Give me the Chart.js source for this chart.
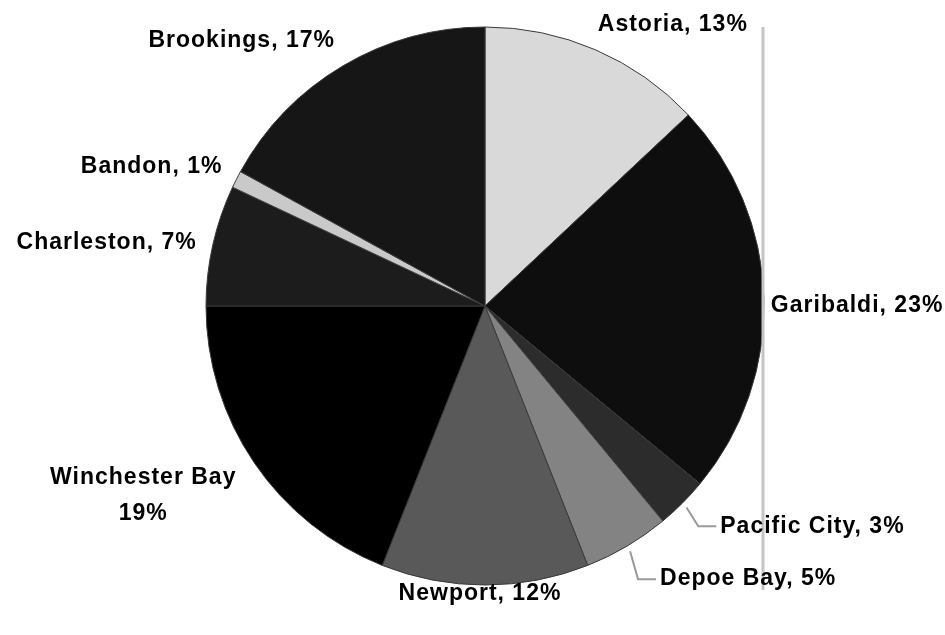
<!DOCTYPE html>
<html>
<head>
<meta charset="utf-8">
<script src="https://cdn.jsdelivr.net/npm/chart.js@4/dist/chart.umd.min.js"></script>
<style>
html,body{margin:0;padding:0;background:#fff;}
#wrap{width:945px;height:635px;position:relative;}
</style>
</head>
<body>
<div id="wrap"><canvas id="c" width="945" height="635"></canvas></div>
<script>
// ---- data ----
const categories = ["Astoria", "Garibaldi", "Pacific City", "Depoe Bay", "Newport", "Winchester Bay", "Charleston", "Bandon", "Brookings"];
const shares = [13, 23, 3, 5, 12, 19, 7, 1, 17];

// ---- styles ----
const sliceColors = ["#d9d9d9", "#0e0e0e", "#2c2c2c", "#838383", "#595959", "#000000", "#1c1c1c", "#c9c9c9", "#161616"];
// label placement relative to each slice's outer edge at its mid angle
const labelStyle = [
  {dx: 2,    dy: -25, align: "left"},
  {dx: 7,    dy: 8,   align: "left"},
  {dx: 38,   dy: 23,  align: "left", leader: true},
  {dx: 33,   dy: 33,  align: "left", leader: true},
  {dx: -5,   dy: 9,   align: "center"},
  {dx: -111, dy: 15,  align: "center", split: true},
  {dx: -16,  dy: -2,  align: "right"},
  {dx: -14,  dy: -13, align: "right"},
  {dx: -8,   dy: -25, align: "right"}
];

const FONT = 'bold 23px "Liberation Sans", Arial, sans-serif';

const labelPlugin = {
  id: "outerLabels",
  afterDatasetsDraw(chart) {
    const ctx = chart.ctx;
    const meta = chart.getDatasetMeta(0);
    // image edge line at the right of the pie
    const a0 = meta.data[0];
    const cx = a0.x, cy = a0.y, R = a0.outerRadius;
    ctx.save();
    ctx.strokeStyle = "#c4c4c4";
    ctx.lineWidth = 3;
    ctx.beginPath();
    ctx.moveTo(cx + R - 1, cy - R);
    ctx.lineTo(cx + R - 1, cy + R + 5);
    ctx.stroke();
    ctx.restore();

    ctx.save();
    ctx.font = FONT;
    ctx.fillStyle = "#000";
    ctx.textBaseline = "middle";
    try { ctx.letterSpacing = "1px"; } catch (e) {}
    meta.data.forEach((arc, i) => {
      const p = arc.getProps(["x", "y", "startAngle", "endAngle", "outerRadius"], true);
      const mid = (p.startAngle + p.endAngle) / 2;
      const ax = p.x + Math.cos(mid) * p.outerRadius;
      const ay = p.y + Math.sin(mid) * p.outerRadius;
      const st = labelStyle[i];
      const tx = ax + st.dx, ty = ay + st.dy;
      const text = categories[i] + ", " + shares[i] + "%";
      ctx.textAlign = st.align;
      if (st.leader) {
        const sx = p.x + Math.cos(mid) * (p.outerRadius + 6);
        const sy = p.y + Math.sin(mid) * (p.outerRadius + 6);
        ctx.save();
        ctx.strokeStyle = "#9a9a9a";
        ctx.lineWidth = 2;
        ctx.beginPath();
        ctx.moveTo(sx, sy);
        ctx.lineTo(tx - 22, ty);
        ctx.lineTo(tx - 4, ty);
        ctx.stroke();
        ctx.restore();
      }
      if (st.split) {
        ctx.fillText(categories[i], tx, ty);
        ctx.fillText(shares[i] + "%", tx, ty + 36);
      } else {
        ctx.fillText(text, tx, ty);
      }
    });
    ctx.restore();
  }
};

new Chart(document.getElementById("c"), {
  type: "pie",
  data: {
    labels: categories,
    datasets: [{
      data: shares,
      backgroundColor: sliceColors,
      borderColor: "#3a3a3a",
      borderWidth: 1
    }]
  },
  options: {
    responsive: false,
    animation: false,
    radius: 279,
    layout: {padding: {left: 25, right: 0, top: 0, bottom: 23}},
    plugins: {legend: {display: false}, tooltip: {enabled: false}}
  },
  plugins: [labelPlugin]
});
</script>
</body>
</html>
